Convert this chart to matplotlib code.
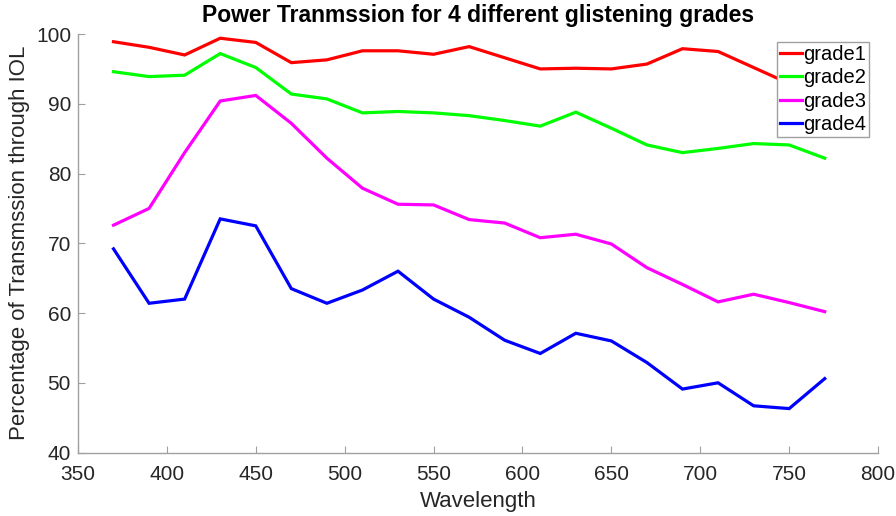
import matplotlib
matplotlib.use("Agg")
import matplotlib.pyplot as plt

wavelength = [370, 390, 410, 430, 450, 470, 490, 510, 530, 550, 570,
              590, 610, 630, 650, 670, 690, 710, 730, 750, 770]
grade1 = [98.9, 98.1, 97.0, 99.4, 98.8, 95.9, 96.3, 97.6, 97.6, 97.1, 98.2,
          96.6, 95.0, 95.1, 95.0, 95.7, 97.9, 97.5, 95.2, 92.9, 91.5]
grade2 = [94.6, 93.9, 94.1, 97.2, 95.2, 91.4, 90.7, 88.7, 88.9, 88.7, 88.3,
          87.6, 86.8, 88.8, 86.5, 84.1, 83.0, 83.6, 84.3, 84.1, 82.2]
grade3 = [72.6, 75.0, 83.0, 90.4, 91.2, 87.2, 82.2, 77.9, 75.6, 75.5, 73.4,
          72.9, 70.8, 71.3, 69.9, 66.5, 64.1, 61.6, 62.7, 61.5, 60.2]
grade4 = [69.2, 61.4, 62.0, 73.5, 72.5, 63.5, 61.4, 63.3, 66.0, 62.0, 59.4,
          56.1, 54.2, 57.1, 56.0, 52.9, 49.1, 50.0, 46.7, 46.3, 50.6]
series_names = ["grade1", "grade2", "grade3", "grade4"]
colors = ["#ff0000", "#00ff00", "#ff00ff", "#0000ff"]
xticks = [350, 400, 450, 500, 550, 600, 650, 700, 750, 800]
yticks = [40, 50, 60, 70, 80, 90, 100]

plt.rcParams["font.family"] = ["Liberation Sans", "DejaVu Sans"]

fig = plt.figure(figsize=(8.96, 5.16), dpi=100)
ax = fig.add_axes([0.087, 0.123, 0.893, 0.811])

for name, vals, c in zip(series_names, [grade1, grade2, grade3, grade4], colors):
    ax.plot(wavelength, vals, color=c, lw=2.3, label=name, solid_joinstyle="miter")

ax.set_xlim(350, 800)
ax.set_ylim(40, 100)
ax.set_xticks(xticks)
ax.set_yticks(yticks)
for s in ["top", "right"]:
    ax.spines[s].set_visible(False)
for s in ["left", "bottom"]:
    ax.spines[s].set_color("#a0a0a0")
    ax.spines[s].set_linewidth(1.0)
ax.tick_params(direction="in", length=5, color="#a0a0a0", labelsize=15,
               labelcolor="#262626")
ax.tick_params(axis="x", pad=9)
ax.tick_params(axis="y", pad=5)

ax.set_xlabel("Wavelength", fontsize=16, color="#262626", labelpad=5)
ax.set_ylabel("Percentage of Transmssion through IOL", fontsize=16,
              color="#262626", labelpad=4)
ax.set_title("Power Tranmssion for 4 different glistening grades",
             fontsize=16.5, fontweight="bold", color="black", pad=9)

leg = ax.legend(loc="upper right", bbox_to_anchor=(0.989, 0.981), fontsize=14.5,
                frameon=True, fancybox=False, framealpha=1.0, handlelength=1.1,
                handletextpad=0.05, borderpad=0.15, labelspacing=0.22,
                borderaxespad=0.0)
leg.get_frame().set_edgecolor("#a0a0a0")
leg.get_frame().set_linewidth(1.0)

fig.savefig("out.png", dpi=100)
